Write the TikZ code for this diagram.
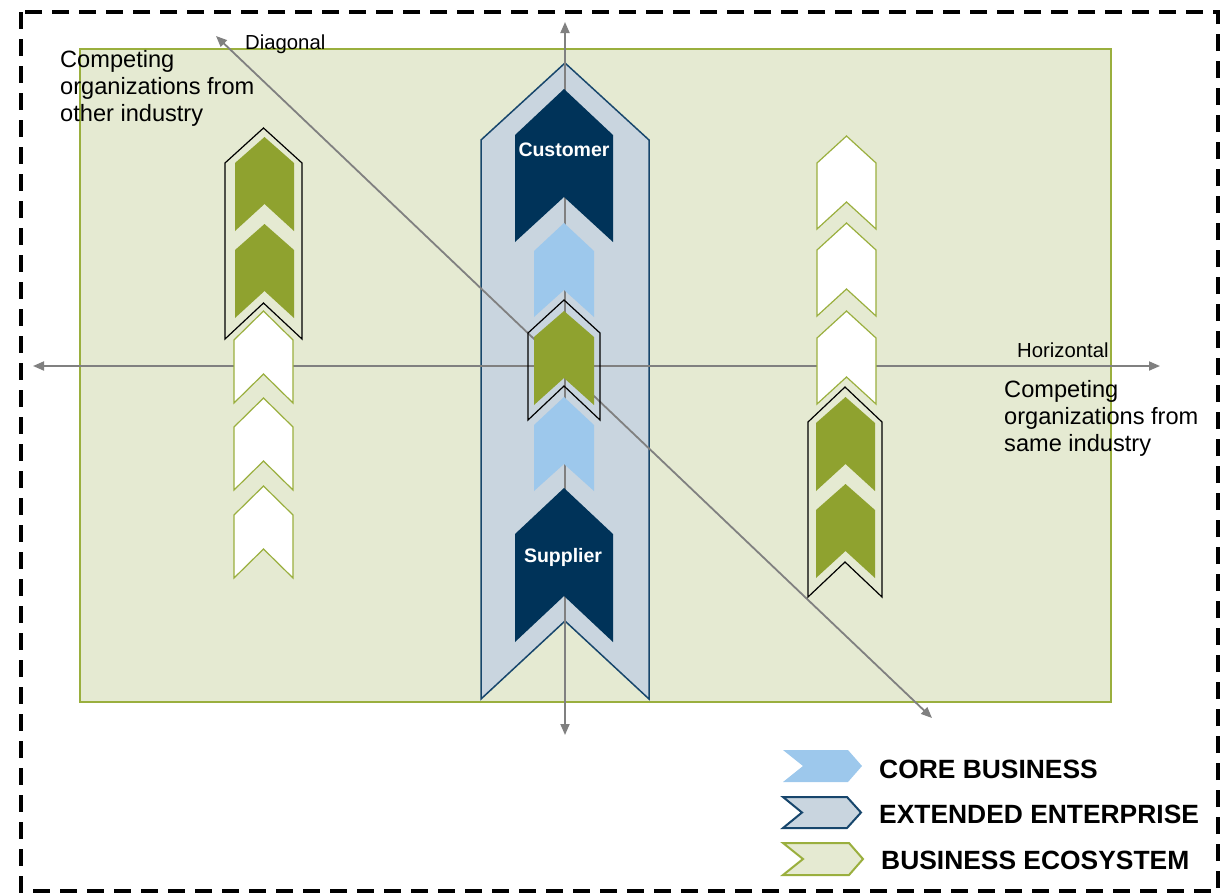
\documentclass[tikz,border=0pt]{standalone}
\usepackage{fontspec}
\setmainfont{Liberation Sans}
\usetikzlibrary{arrows.meta}
\definecolor{ecofill}{HTML}{E5EAD2}
\definecolor{ecoline}{HTML}{9AAF3E}
\definecolor{extfill}{HTML}{C9D5DF}
\definecolor{extline}{HTML}{17466C}
\definecolor{navy}{HTML}{003359}
\definecolor{coreblue}{HTML}{9DC8EC}
\definecolor{olivegreen}{HTML}{8FA22F}
\definecolor{axisgray}{HTML}{808080}

\begin{document}
\begin{tikzpicture}[x=1pt,y=-1pt,
    axis/.style={draw=axisgray, line width=1.8pt,
      {Triangle[length=11pt,width=9pt]}-{Triangle[length=11pt,width=9pt]}},
    whitechev/.style={fill=white, draw=ecoline, line width=1.2pt},
    ringline/.style={draw=black, line width=1.2pt},
    smalltext/.style={font=\fontsize{20.3}{23}\selectfont, inner sep=0pt},
    bigtext/.style={font=\fontsize{23.6}{27}\selectfont, align=left, inner sep=0pt, anchor=north west},
    chevtext/.style={font=\bfseries\fontsize{19.5}{22}\selectfont, text=white, inner sep=0pt, anchor=base},
    legtext/.style={font=\bfseries\fontsize{26.4}{29}\selectfont, inner sep=0pt, anchor=base west}]
    \useasboundingbox (0,0) rectangle (1225,895);
    % frame and ecosystem area
    \draw [black, line width=3.5pt, dash pattern=on 17pt off 10pt] (21,12) rectangle (1218,891);
    \draw [ecoline, fill=ecofill, line width=1.2pt] (80,49) rectangle (1111,702);
    % extended enterprise
    \filldraw [fill=extfill, draw=extline, line width=1.5pt] (565,63) -- ++(84,77) -- ++(0,559) -- ++(-84,-78) -- ++(-84,78) -- ++(0,-559) -- cycle;
    % axes
    \coordinate (vtop) at (565,22);
    \coordinate (vbot) at (565,735);
    \coordinate (hleft) at (33,366);
    \coordinate (hright) at (1160,366);
    \coordinate (dtop) at (216,36);
    \coordinate (dbot) at (932,718);
    \draw [axis] (vtop) -- (vbot);
    \draw [axis] (hleft) -- (hright);
    \draw [axis] (dtop) -- (dbot);
    % value chain in the middle
    \fill [navy] (564,89) -- ++(49,46) -- ++(0,107) -- ++(-49,-45) -- ++(-49,45) -- ++(0,-107) -- cycle;
    \fill [navy] (564,488) -- ++(49,46) -- ++(0,108) -- ++(-49,-46) -- ++(-49,46) -- ++(0,-108) -- cycle;
    \foreach \y in {223,397}
      \fill [coreblue] (564,\y) -- ++(30,28) -- ++(0,66) -- ++(-30,-27) -- ++(-30,27) -- ++(0,-66) -- cycle;
    \fill [olivegreen] (564,311) -- ++(30,26) -- ++(0,68) -- ++(-30,-27) -- ++(-30,27) -- ++(0,-68) -- cycle;
    \draw [ringline] (564,300) -- ++(36,33) -- ++(0,87) -- ++(-36,-34) -- ++(-36,34) -- ++(0,-87) -- cycle;
    % other industry (left)
    \foreach \y in {137,224}
      \fill [olivegreen] (264.5,\y) -- ++(29.5,26) -- ++(0,68) -- ++(-29.5,-27) -- ++(-29.5,27) -- ++(0,-68) -- cycle;
    \draw [ringline] (263.5,128) -- ++(38.5,35) -- ++(0,176) -- ++(-38.5,-36) -- ++(-38.5,36) -- ++(0,-176) -- cycle;
    \foreach \y in {311,398,486}
      \filldraw [whitechev] (263.5,\y) -- ++(29.5,29) -- ++(0,63) -- ++(-29.5,-29) -- ++(-29.5,29) -- ++(0,-63) -- cycle;
    % same industry (right)
    \foreach \y in {136,223,311}
      \filldraw [whitechev] (846.5,\y) -- ++(29.5,27) -- ++(0,66) -- ++(-29.5,-27) -- ++(-29.5,27) -- ++(0,-66) -- cycle;
    \foreach \y in {397,484}
      \fill [olivegreen] (845.5,\y) -- ++(29.5,26) -- ++(0,68) -- ++(-29.5,-27) -- ++(-29.5,27) -- ++(0,-68) -- cycle;
    \draw [ringline] (845,387) -- ++(37,35) -- ++(0,175) -- ++(-37,-35) -- ++(-37,35) -- ++(0,-175) -- cycle;
    % labels
    \node [chevtext] (customer) at (564,156) {Customer};
    \node [chevtext] (supplier) at (563,562) {Supplier};
    \node [smalltext, anchor=base west] (diaglbl) at (245,49) {Diagonal};
    \node [smalltext, anchor=base west] (horlbl) at (1017,357) {Horizontal};
    \node [bigtext] (othertxt) at (60,50) {Competing\\organizations from\\other industry};
    \node [bigtext] (sametxt) at (1004,380) {Competing\\organizations from\\same industry};
    % legend
    \fill [coreblue] (783,750) -- (848,750) -- (862,766) -- (848,782) -- (783,782) -- (803,766) -- cycle;
    \filldraw [fill=extfill, draw=extline, line width=2pt] (783,797) -- (847,797) -- (861,812.5) -- (847,828) -- (783,828) -- (802,812.5) -- cycle;
    \filldraw [fill=ecofill, draw=ecoline, line width=2pt] (783,843) -- (849,843) -- (863,859) -- (849,875) -- (783,875) -- (803,859) -- cycle;
    \node [legtext] (corelbl) at (879,778) {CORE BUSINESS};
    \node [legtext] (extlbl) at (879,823) {EXTENDED ENTERPRISE};
    \node [legtext] (ecolbl) at (881,869) {BUSINESS ECOSYSTEM};
\end{tikzpicture}
\end{document}
